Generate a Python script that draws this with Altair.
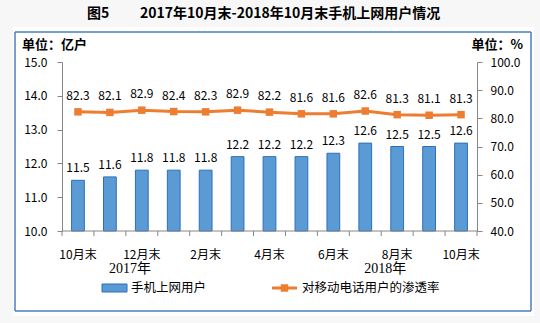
import altair as alt
import pandas as pd

# ---------------- data ----------------
categories = ["2017-10", "2017-11", "2017-12", "2018-01", "2018-02", "2018-03", "2018-04",
              "2018-05", "2018-06", "2018-07", "2018-08", "2018-09", "2018-10"]
x_labels = ["10月末", "", "12月末", "", "2月末", "", "4月末", "", "6月末", "", "8月末", "", "10月末"]
users = [11.5, 11.6, 11.8, 11.8, 11.8, 12.2, 12.2, 12.2, 12.3, 12.6, 12.5, 12.5, 12.6]
rate = [82.3, 82.1, 82.9, 82.4, 82.3, 82.9, 82.2, 81.6, 81.6, 82.6, 81.3, 81.1, 81.3]
year_labels = ["2017年", "2018年"]
year_anchor = ["2017-11", "2018-07"]
series_names = ["手机上网用户", "对移动电话用户的渗透率"]
title_prefix = "图5"
title_text = "2017年10月末-2018年10月末手机上网用户情况"
unit_left = "单位：亿户"
unit_right = "单位：%"
left_ticks = [10, 11, 12, 13, 14, 15]
right_ticks = [40, 50, 60, 70, 80, 90, 100]

df = pd.DataFrame({"cat": categories, "xlab": x_labels, "users": users, "rate": rate})
years = pd.DataFrame({"cat": year_anchor, "label": year_labels})
one = pd.DataFrame({"k": [0]})

W, H = 415, 169
STEP = W / len(categories)
FONT = "Noto Sans CJK SC"
BLUE = "#5B9BD5"
BLUE_EDGE = "#2E6FB5"
ORANGE = "#ED7D31"
AXIS_GREY = "#868686"
FRAME = "#4A7EBB"
PAGE_GREY = "#f7f7f7"

xscale = alt.Scale(domain=categories, paddingInner=0.6, paddingOuter=0.3)
x_noaxis = alt.X("cat:N", sort=categories, scale=xscale, axis=None)

lscale = alt.Scale(domain=[10, 15], zero=False, nice=False)
rscale = alt.Scale(domain=[40, 100], zero=False, nice=False)

left_axis = alt.Axis(orient="left", values=left_ticks, format=".1f", grid=False,
                     tickSize=5, labelPadding=10, domainColor=AXIS_GREY, tickColor=AXIS_GREY,
                     labelColor="#000000", labelFontSize=12, labelFont=FONT, title=None)
right_axis = alt.Axis(orient="right", values=right_ticks, format=".1f", grid=False,
                      tickSize=5, labelPadding=8, domainColor=AXIS_GREY, tickColor=AXIS_GREY,
                      labelColor="#000000", labelFontSize=12, labelFont=FONT, title=None)

# ---------- page margins (light grey strips outside the white panel) ----------
def strip(x0, x1, y0, y1):
    return alt.Chart(one).mark_rect(fill=PAGE_GREY, strokeWidth=0).encode(
        x=alt.value(x0), x2=alt.value(x1), y=alt.value(y0), y2=alt.value(y1))

strips = [strip(-62, 478, -62, -35), strip(-62, 478, 254, 261),
          strip(-62, -49, -35, 254), strip(472, 478, -35, 254)]

# ---------- bars ----------
bars = alt.Chart(df).mark_bar(color=BLUE, stroke=BLUE_EDGE, strokeWidth=1).encode(
    x=x_noaxis,
    y=alt.Y("users:Q", scale=lscale, axis=left_axis),
    y2=alt.datum(10),
)
bar_text = alt.Chart(df).mark_text(baseline="middle", dy=-12, fontSize=12, font=FONT,
                                   color="#000000").encode(
    x=x_noaxis,
    y=alt.Y("users:Q", scale=lscale, axis=None),
    text=alt.Text("users:Q", format=".1f"),
)

# ---------- line ----------
line = alt.Chart(df).mark_line(color=ORANGE, strokeWidth=3).encode(
    x=x_noaxis,
    y=alt.Y("rate:Q", scale=rscale, axis=right_axis),
)
pts = alt.Chart(df).mark_square(color=ORANGE, filled=True, size=56, opacity=1).encode(
    x=x_noaxis,
    y=alt.Y("rate:Q", scale=rscale, axis=None),
)
line_text = alt.Chart(df).mark_text(baseline="middle", dy=-16, fontSize=12, font=FONT,
                                    color="#000000").encode(
    x=x_noaxis,
    y=alt.Y("rate:Q", scale=rscale, axis=None),
    text=alt.Text("rate:Q", format=".1f"),
)

# ---------- category axis (domain, boundary ticks, labels) ----------
x_domain = alt.Chart(one).mark_rule(color=AXIS_GREY, strokeWidth=1).encode(
    x=alt.value(0), x2=alt.value(W), y=alt.value(H))
x_ticks = alt.Chart(df).mark_rule(color=AXIS_GREY, strokeWidth=1, xOffset=-STEP / 2).encode(
    x=x_noaxis, y=alt.value(H), y2=alt.value(H + 5))
end_tick = alt.Chart(one).mark_rule(color=AXIS_GREY, strokeWidth=1).encode(
    x=alt.value(W), y=alt.value(H), y2=alt.value(H + 5))
x_text = alt.Chart(df).mark_text(baseline="middle", fontSize=12, font=FONT,
                                 color="#000000").encode(
    x=x_noaxis, y=alt.value(H + 24), text="xlab:N")

# ---------- year labels ----------
year_text = alt.Chart(years).mark_text(baseline="middle", dx=20, fontSize=14,
                                       font="Liberation Serif, " + FONT, color="#000000").encode(
    x=x_noaxis, y=alt.value(207), text="label:N")

# ---------- titles / units ----------
t1 = alt.Chart(one).mark_text(text=title_prefix, align="left", baseline="middle", fontSize=14,
                              fontWeight="bold", font=FONT, color="#000000").encode(
    x=alt.value(25), y=alt.value(-48))
t2 = alt.Chart(one).mark_text(text=title_text, align="left", baseline="middle", fontSize=14,
                              fontWeight="bold", font=FONT, color="#000000").encode(
    x=alt.value(78), y=alt.value(-48))
u1 = alt.Chart(one).mark_text(text=unit_left, align="left", baseline="middle", fontSize=13,
                              fontWeight="bold", font=FONT, color="#000000").encode(
    x=alt.value(-40), y=alt.value(-17))
u2 = alt.Chart(one).mark_text(text=unit_right, align="right", baseline="middle", fontSize=13,
                              fontWeight="bold", font=FONT, color="#000000").encode(
    x=alt.value(461), y=alt.value(-17))

# ---------- frame (four rules) ----------
fr_top = alt.Chart(one).mark_rule(color=FRAME, strokeWidth=1.5).encode(
    x=alt.value(-47), x2=alt.value(469), y=alt.value(-30))
fr_bot = alt.Chart(one).mark_rule(color=FRAME, strokeWidth=1.5).encode(
    x=alt.value(-47), x2=alt.value(469), y=alt.value(249))
fr_l = alt.Chart(one).mark_rule(color=FRAME, strokeWidth=1.5).encode(
    x=alt.value(-47), y=alt.value(-30), y2=alt.value(249))
fr_r = alt.Chart(one).mark_rule(color=FRAME, strokeWidth=1.5).encode(
    x=alt.value(469), y=alt.value(-30), y2=alt.value(249))

# ---------- legend ----------
lg_rect = alt.Chart(one).mark_rect(fill=BLUE, stroke=BLUE_EDGE, strokeWidth=1).encode(
    x=alt.value(40), x2=alt.value(65), y=alt.value(222), y2=alt.value(230))
lg_t1 = alt.Chart(one).mark_text(text=series_names[0], align="left", baseline="middle",
                                 fontSize=12.5, font=FONT, color="#000000").encode(
    x=alt.value(69), y=alt.value(226))
lg_line = alt.Chart(one).mark_rule(color=ORANGE, strokeWidth=3).encode(
    x=alt.value(210), x2=alt.value(235), y=alt.value(226))
lg_sq = alt.Chart(one).mark_square(color=ORANGE, filled=True, size=56, opacity=1).encode(
    x=alt.value(222.5), y=alt.value(226))
lg_t2 = alt.Chart(one).mark_text(text=series_names[1], align="left", baseline="middle",
                                 fontSize=12.5, font=FONT, color="#000000").encode(
    x=alt.value(240), y=alt.value(226))

chart = alt.layer(
    *strips,
    bars, line, bar_text, pts, line_text,
    x_domain, x_ticks, end_tick, x_text, year_text, t1, t2, u1, u2,
    fr_top, fr_bot, fr_l, fr_r,
    lg_rect, lg_t1, lg_line, lg_sq, lg_t2,
).resolve_scale(y="independent").properties(
    width=W, height=H,
    autosize=alt.AutoSizeParams(type="none"),
    padding={"left": 62, "top": 62, "right": 63, "bottom": 92},
    background="white",
).configure_view(stroke=None)

chart.save("out.html", embed_options={"renderer": "svg", "actions": False})
